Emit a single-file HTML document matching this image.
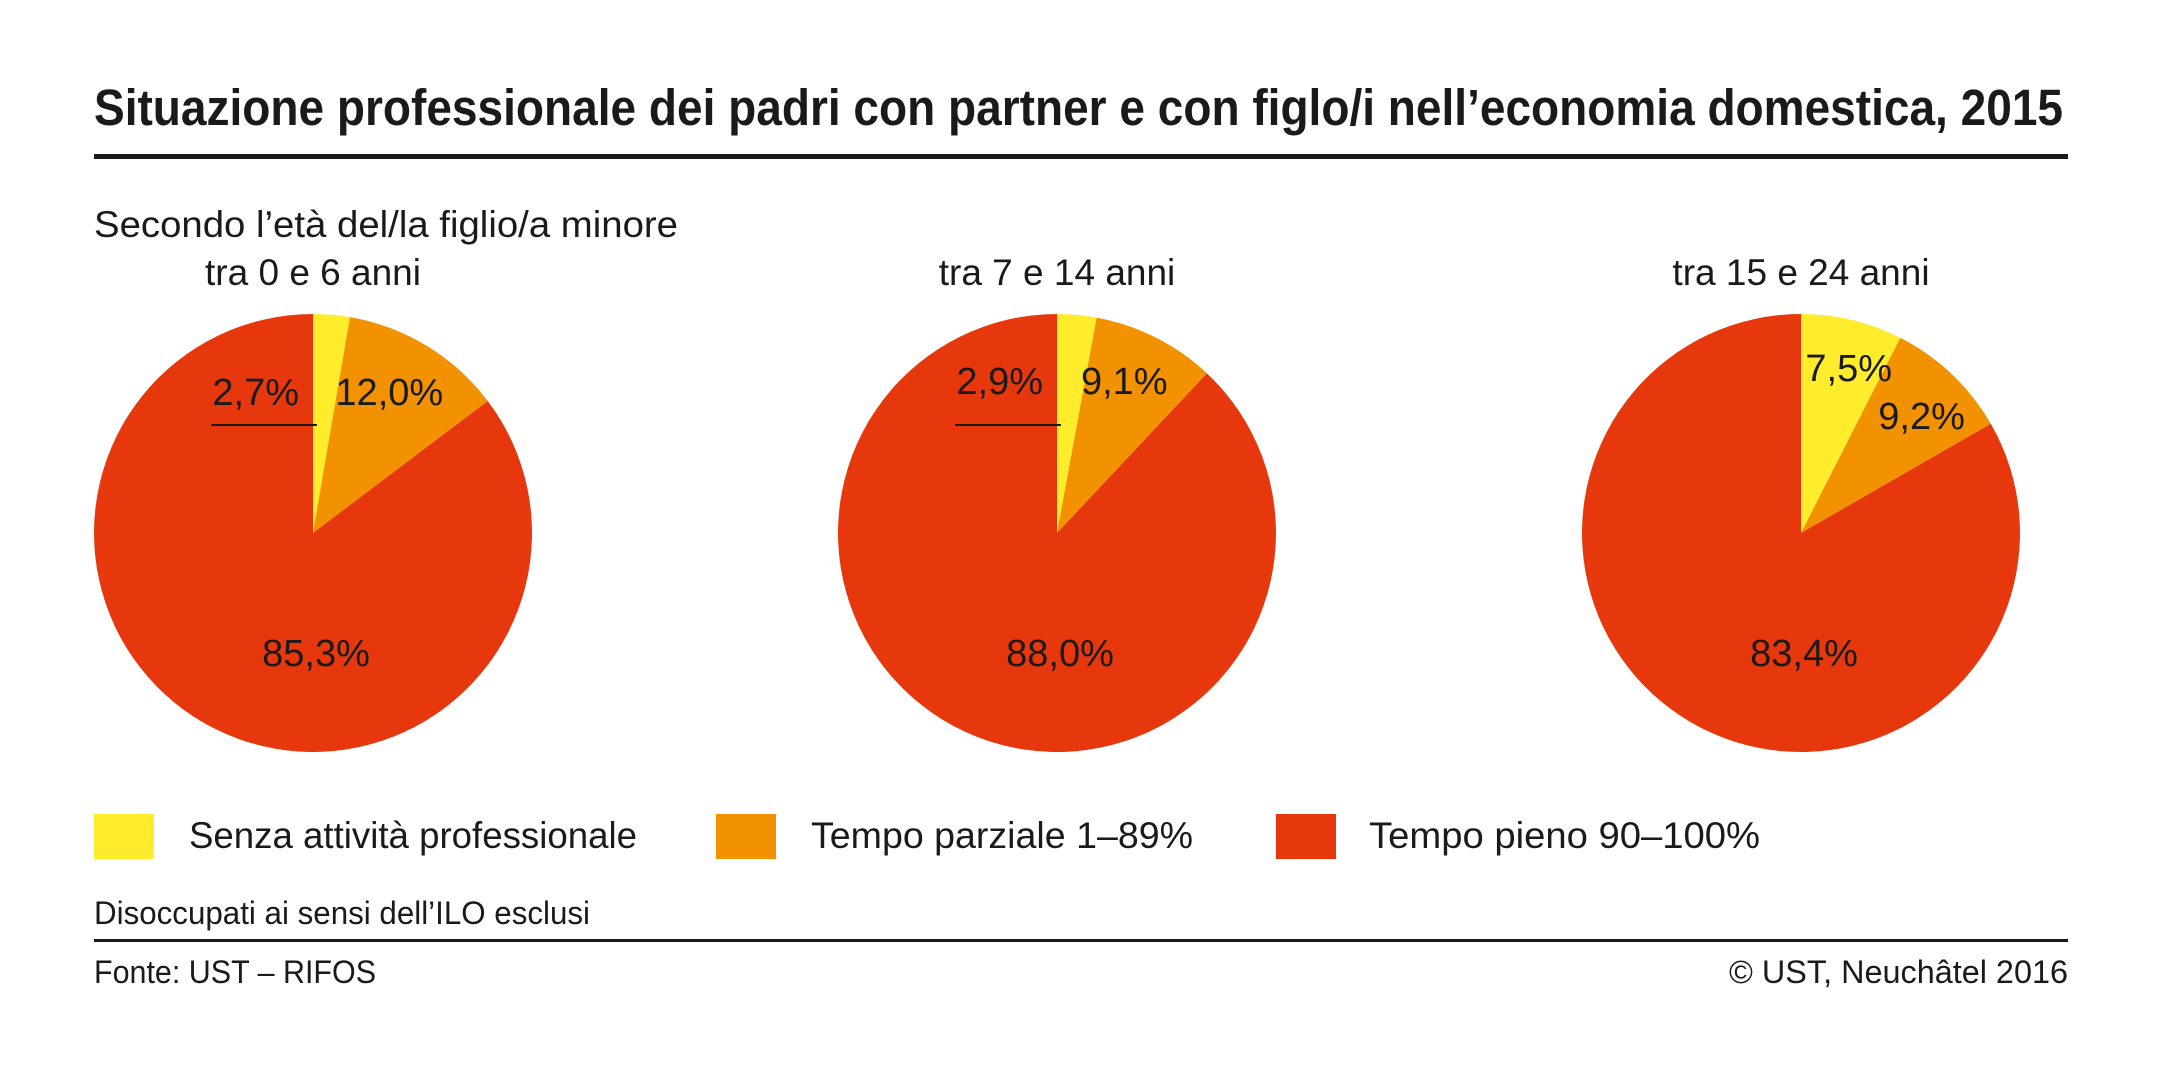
<!DOCTYPE html>
<html><head><meta charset="utf-8">
<style>
html,body{margin:0;padding:0;background:#fff;}
svg{display:block;font-family:"Liberation Sans",sans-serif;}
</style></head>
<body>
<svg id="chart" width="2162" height="1066" viewBox="0 0 2162 1066" xmlns="http://www.w3.org/2000/svg">
<rect width="2162" height="1066" fill="#fff"/>
<text x="94" y="125" font-size="51" font-weight="bold" fill="#1a1a1a" textLength="1969" lengthAdjust="spacingAndGlyphs">Situazione professionale dei padri con partner e con figlo/i nell’economia domestica, 2015</text>
<rect x="94" y="154" width="1974" height="5" fill="#1a1a1a"/>
<text x="94" y="237" font-size="37" fill="#1a1a1a" textLength="584" lengthAdjust="spacingAndGlyphs">Secondo l’età del/la figlio/a minore</text>
<g id="pies"></g>
<g>
<rect x="94" y="814" width="60" height="45" fill="#FFEC2D"/>
<text x="189" y="848" font-size="37" fill="#1a1a1a" textLength="448" lengthAdjust="spacingAndGlyphs">Senza attività professionale</text>
<rect x="716" y="814" width="60" height="45" fill="#F39200"/>
<text x="811" y="848" font-size="37" fill="#1a1a1a" textLength="382" lengthAdjust="spacingAndGlyphs">Tempo parziale 1–89%</text>
<rect x="1276" y="814" width="60" height="45" fill="#E6380C"/>
<text x="1369" y="848" font-size="37" fill="#1a1a1a" textLength="391" lengthAdjust="spacingAndGlyphs">Tempo pieno 90–100%</text>
</g>
<text x="94" y="924" font-size="32" fill="#1a1a1a" textLength="496" lengthAdjust="spacingAndGlyphs">Disoccupati ai sensi dell’ILO esclusi</text>
<rect x="94" y="939" width="1974" height="3" fill="#1a1a1a"/>
<text x="94" y="983" font-size="32" fill="#1a1a1a" textLength="282" lengthAdjust="spacingAndGlyphs">Fonte: UST – RIFOS</text>
<text x="2068" y="983" font-size="32" fill="#1a1a1a" text-anchor="end" textLength="339" lengthAdjust="spacingAndGlyphs">© UST, Neuchâtel 2016</text>
</svg>
<script>
const groups = ["tra 0 e 6 anni", "tra 7 e 14 anni", "tra 15 e 24 anni"];
const senza = [2.7, 2.9, 7.5];
const parziale = [12.0, 9.1, 9.2];
const pieno = [85.3, 88.0, 83.4];
const colors = ["#FFEC2D", "#F39200", "#E6380C"];
const NS = "http://www.w3.org/2000/svg";
const g = document.getElementById("pies");
const centersX = [313, 1057, 1801], cy = 533, R = 219;
function fmt(v){ return v.toFixed(1).replace(".", ",") + "%"; }
function pt(cx, a, r){ return [cx + r*Math.sin(a), cy - r*Math.cos(a)]; }
function mk(tag, attrs){ const e = document.createElementNS(NS, tag); for (const k in attrs) e.setAttribute(k, attrs[k]); return e; }
groups.forEach((name, i) => {
  const cx = centersX[i];
  const vals = [senza[i], parziale[i], pieno[i]];
  const total = vals.reduce((a,b)=>a+b,0);
  const h = mk("text", {x: cx, y: 285, "font-size": 37, fill: "#1a1a1a", "text-anchor": "middle"});
  h.textContent = name;
  
  
  g.appendChild(h);
  let a0 = 0;
  const angles = [];
  vals.forEach((v, j) => {
    const a1 = a0 + v/total*2*Math.PI;
    const p0 = pt(cx, a0, R), p1 = pt(cx, a1, R);
    const large = (a1 - a0) > Math.PI ? 1 : 0;
    const p = mk("path", {d: `M${cx},${cy} L${p0[0]},${p0[1]} A${R},${R} 0 ${large} 1 ${p1[0]},${p1[1]} Z`, fill: colors[j]});
    
    
    g.appendChild(p);
    angles.push([a0, a1]);
    a0 = a1;
  });
  const fs = 38;
  function lab(text, x, y, anchor){
    const t = mk("text", {x: x, y: y, "font-size": fs, fill: "#1a1a1a", "text-anchor": anchor});
    t.textContent = text;
    
    
    g.appendChild(t);
  }
  if (senza[i] < 5) {
    lab(fmt(senza[i]), cx - 14, 405 - (i===1?11:0), "end");
    const l = mk("line", {x1: cx - 102, y1: 425, x2: cx + 4, y2: 425, stroke: "#1a1a1a", "stroke-width": 2});
    
    
    g.appendChild(l);
    const mid = (angles[1][0] + angles[1][1]) / 2;
    const p = pt(cx, mid, R*0.6);
    lab(fmt(parziale[i]), p[0] + 8, 405 - (i===1?11:0), "middle");
  } else {
    const m0 = (angles[0][0] + angles[0][1]) / 2;
    const p0 = pt(cx, m0, R*0.66);
    lab(fmt(senza[i]), p0[0] + 14, 381, "middle");
    const m1 = (angles[1][0] + angles[1][1]) / 2;
    const p1 = pt(cx, m1, R*0.72);
    lab(fmt(parziale[i]), p1[0] + 12, 429, "middle");
  }
  lab(fmt(pieno[i]), cx + 3, 666, "middle");
});
</script>
</body></html>
